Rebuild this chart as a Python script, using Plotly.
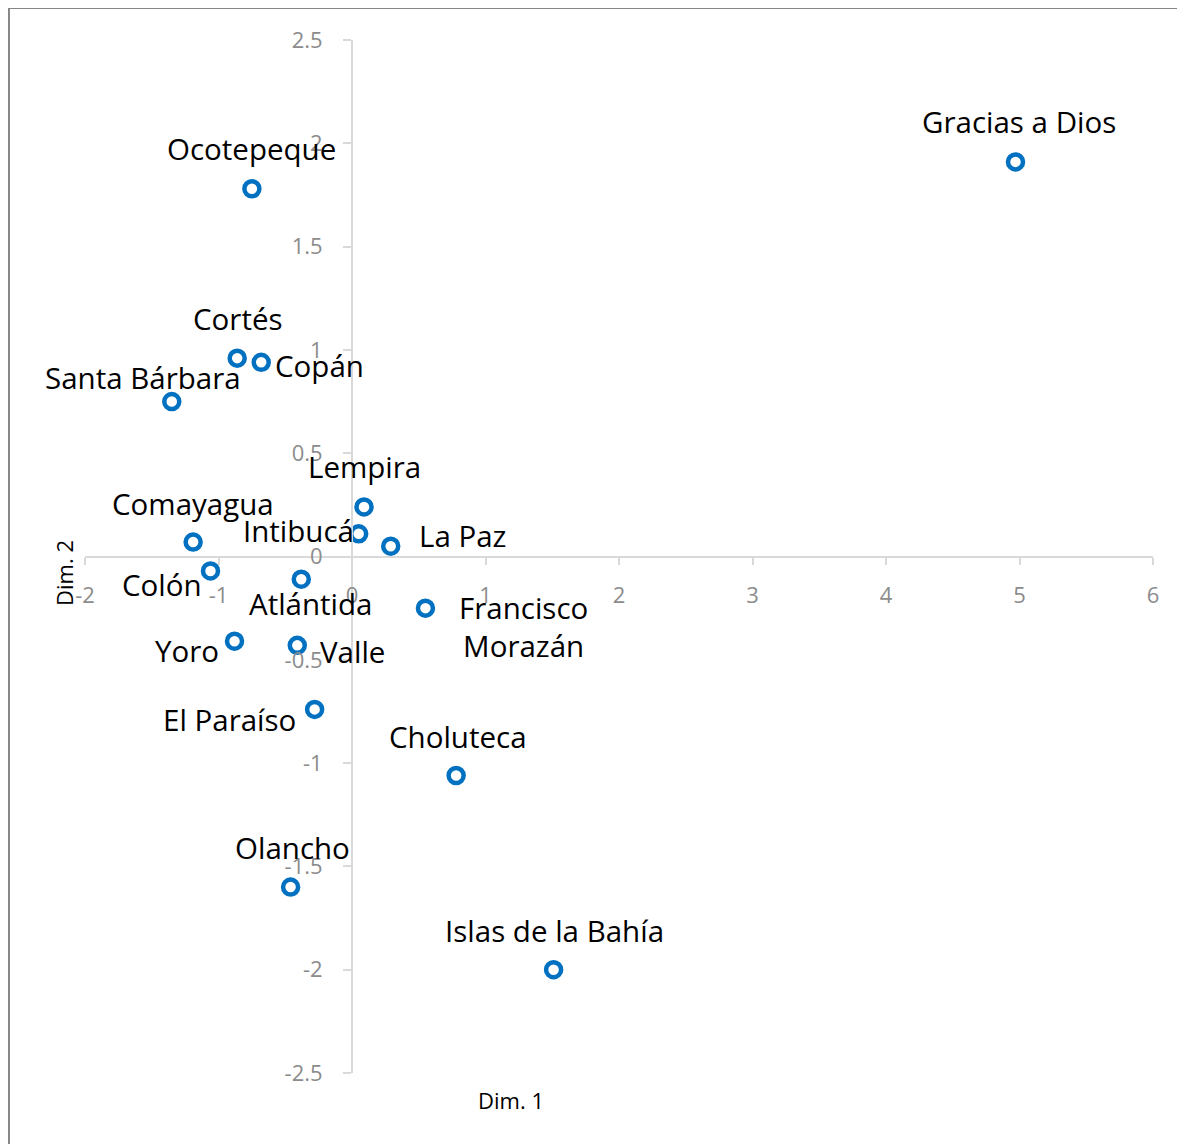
import plotly.graph_objects as go

# departments and their coordinates on the two dimensions
departments = ['Gracias a Dios', 'Ocotepeque', 'Cortés', 'Copán', 'Santa Bárbara',
               'Lempira', 'Intibucá', 'La Paz', 'Comayagua', 'Colón', 'Atlántida',
               'Francisco<br>Morazán', 'Yoro', 'Valle', 'El Paraíso', 'Choluteca',
               'Olancho', 'Islas de la Bahía']
dim1 = [4.97, -0.75, -0.86, -0.68, -1.35, 0.09, 0.05, 0.29, -1.19, -1.06, -0.38,
        0.55, -0.88, -0.41, -0.28, 0.78, -0.46, 1.51]
dim2 = [1.91, 1.78, 0.96, 0.94, 0.75, 0.24, 0.11, 0.05, 0.07, -0.07, -0.11,
        -0.25, -0.41, -0.43, -0.74, -1.06, -1.60, -2.00]

# tick values and labels (hyphen minus as in the original)
x_ticks = [-2, -1, 0, 1, 2, 3, 4, 5, 6]
x_labels = ['-2', '-1', '0', '1', '2', '3', '4', '5', '6']
y_ticks = [-2.5, -2, -1.5, -1, -0.5, 0, 0.5, 1, 1.5, 2, 2.5]
y_labels = ['-2.5', '-2', '-1.5', '-1', '-0.5', '0', '0.5', '1', '1.5', '2', '2.5']

# label offsets in pixels (dx, dy) relative to each point
offsets = [(3, 40), (0, 40), (1, 40), (58, -3), (-29, 24), (0, 40), (-60, 3),
           (72, 11), (0, 39), (-48, -14), (10, -24), (98, -18), (-48, -9),
           (55, -6), (-85, -10), (2, 39), (2, 40), (1, 39)]

x_range = [-2, 6]
y_range = [-2.5, 2.5]
blue = '#0070C0'
axis_grey = '#D9D9D9'
tick_grey = '#8C8C8C'
font = 'Open Sans'

fig = go.Figure(go.Scatter(
    x=dim1, y=dim2, mode='markers',
    marker=dict(symbol='circle-open', size=15, color=blue, line=dict(width=4.5, color=blue)),
    hoverinfo='skip',
))

for name, x, y, (dx, dy) in zip(departments, dim1, dim2, offsets):
    fig.add_annotation(x=x, y=y, text=name, showarrow=False, xshift=dx, yshift=dy,
                       font=dict(family=font, size=29.5, color='black'))

# axes cross at zero, like the original spreadsheet chart
x_pos = (0 - x_range[0]) / (x_range[1] - x_range[0])
y_pos = (0 - y_range[0]) / (y_range[1] - y_range[0])

fig.update_xaxes(range=x_range, tickvals=x_ticks, ticktext=x_labels,
                 showgrid=False, zeroline=False,
                 showline=True, linecolor=axis_grey, linewidth=2,
                 ticks='outside', ticklen=7, tickcolor=axis_grey, tickwidth=2,
                 anchor='free', position=y_pos, ticklabelstandoff=12,
                 tickfont=dict(family=font, size=22, color=tick_grey))
fig.update_yaxes(range=y_range, tickvals=y_ticks, ticktext=y_labels,
                 showgrid=False, zeroline=False,
                 showline=True, linecolor=axis_grey, linewidth=2,
                 ticks='outside', ticklen=8, tickcolor=axis_grey, tickwidth=2,
                 anchor='free', position=x_pos, ticklabelstandoff=16,
                 tickfont=dict(family=font, size=22, color=tick_grey))

fig.add_annotation(text='Dim. 1', xref='paper', yref='paper', x=0.399, y=-0.026,
                   xanchor='center', yanchor='middle', showarrow=False,
                   font=dict(family=font, size=22, color='black'))
fig.add_annotation(text='Dim. 2', xref='paper', yref='paper', x=-0.0197, y=0.484,
                   xanchor='center', yanchor='middle', textangle=-90, showarrow=False,
                   font=dict(family=font, size=22, color='black'))

# chart frame
fig.add_shape(type='rect', xref='paper', yref='paper', x0=-0.0712, y0=-0.2,
              x1=1.2, y1=1.031, line=dict(color='#868686', width=2), layer='below')

# page body has an 8px margin, so the figure is a little smaller than the window
fig.update_layout(
    width=1177, height=1136,
    margin=dict(l=77, r=32, t=32, b=71),
    plot_bgcolor='white', paper_bgcolor='white',
    showlegend=False,
)

fig.write_html('out.html')
